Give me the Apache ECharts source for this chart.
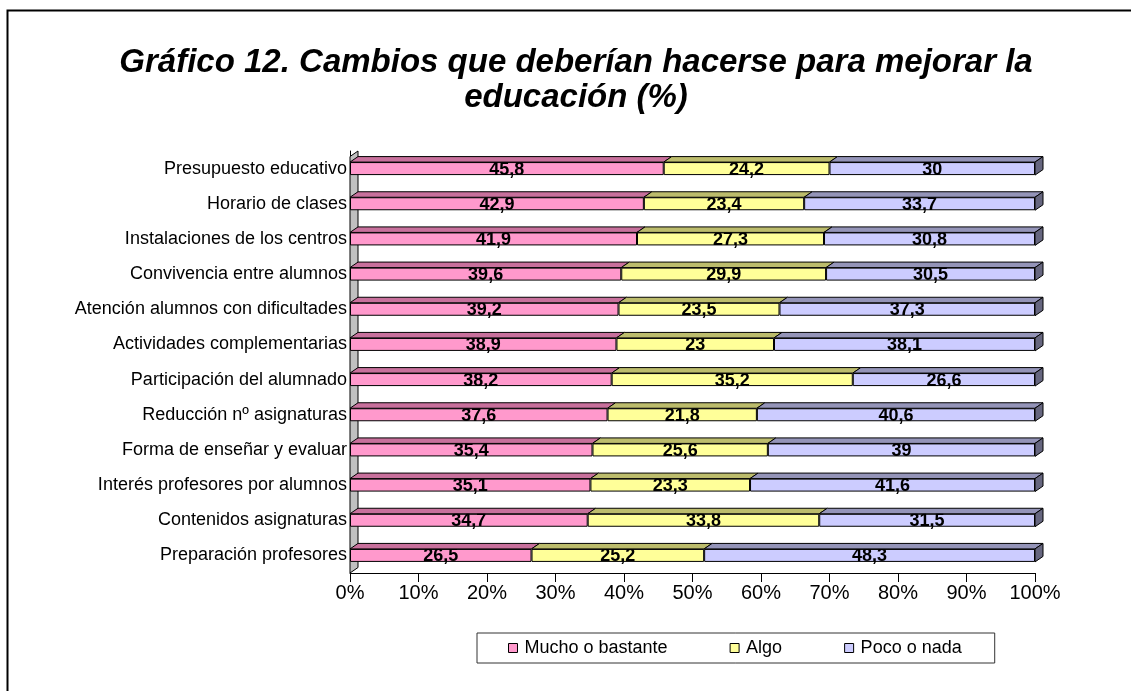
<!DOCTYPE html>
<html>
<head>
<meta charset="utf-8">
<script src="https://cdn.jsdelivr.net/npm/echarts@6/dist/echarts.min.js"></script>
<style>html,body{margin:0;padding:0;background:#fff}#c{width:1131px;height:691px}</style>
</head>
<body>
<div id="c"></div>
<script>
var categories = ['Presupuesto educativo','Horario de clases','Instalaciones de los centros','Convivencia entre alumnos','Atención alumnos con dificultades','Actividades complementarias','Participación del alumnado','Reducción nº asignaturas','Forma de enseñar y evaluar','Interés profesores por alumnos','Contenidos asignaturas','Preparación profesores'];
var mucho = [45.8,42.9,41.9,39.6,39.2,38.9,38.2,37.6,35.4,35.1,34.7,26.5];
var algo  = [24.2,23.4,27.3,29.9,23.5,23.0,35.2,21.8,25.6,23.3,33.8,25.2];
var poco  = [30.0,33.7,30.8,30.5,37.3,38.1,26.6,40.6,39.0,41.6,31.5,48.3];
var seriesNames = ['Mucho o bastante','Algo','Poco o nada'];
var xTicks = [0,10,20,30,40,50,60,70,80,90,100];

var frontColors = ['#ff99cc','#ffff99','#ccccff'];
var topColors = ['#c8709c','#bcbc6c','#9494b8'];
var capColor = '#66667f';
var DX = 8, DY = 5.5, BW = 13;
var FONT = '"Liberation Sans", Arial, sans-serif';

var all = [mucho, algo, poco];
var segs = [];
for (var i = 0; i < categories.length; i++) {
  var s = 0;
  for (var k = 0; k < 3; k++) {
    var v = all[k][i];
    segs.push([i, s, s + v, k]);
    s += v;
  }
}

var chart = echarts.init(document.getElementById('c'), null, {renderer:'canvas'});

function fmt(p){ return String(p.value).replace('.', ','); }

var barSeries = seriesNames.map(function(n, k){
  return {
    name: n, type: 'bar', stack: 'tot', barWidth: BW, z: 3,
    data: all[k],
    itemStyle: {color: frontColors[k], borderColor: '#000', borderWidth: 1},
    label: {show: true, position: 'inside', formatter: fmt, color: '#000',
            fontFamily: FONT, fontWeight: 'bold', fontSize: 18, offset:[0,1]},
    emphasis: {disabled: true}
  };
});

var option = {
  animation: false,
  backgroundColor: '#fff',
  title: {
    text: 'Gráfico 12. Cambios que deberían hacerse para mejorar la\neducación (%)',
    left: 571, top: 40, textAlign: 'center',
    textStyle: {fontFamily: FONT, fontStyle: 'italic', fontWeight: 'bold', fontSize: 33, lineHeight: 35, color: '#000'}
  },
  legend: {
    data: seriesNames,
    left: 477, top: 633,
    padding: [6, 33, 6, 31],
    borderColor: '#333', borderWidth: 1,
    itemWidth: 9, itemHeight: 9, itemGap: 62,
    icon: 'rect',
    itemStyle: {borderColor: '#000', borderWidth: 1},
    textStyle: {fontFamily: FONT, fontSize: 18, color: '#000', padding:[0,0,0,2]}
  },
  grid: {left: 350, right: 96, top: 151, height: 422, containLabel: false},
  xAxis: {
    type: 'value', min: 0, max: 100, interval: 10,
    axisLine: {show: true, lineStyle: {color: '#000', width: 1}},
    axisTick: {show: true, length: 9, lineStyle: {color: '#000'}},
    splitLine: {show: false},
    axisLabel: {formatter: function(v){ return xTicks.indexOf(v) >= 0 ? v + '%' : ''; }, margin: 10,
                fontFamily: FONT, fontSize: 20, color: '#000'}
  },
  yAxis: {
    type: 'category', data: categories, inverse: true,
    axisLine: {show: true, lineStyle: {color: '#000'}},
    axisTick: {show: false},
    axisLabel: {margin: 3, fontFamily: FONT, fontSize: 18, color: '#000'}
  },
  series: [
    {
      type: 'custom', z: 1, silent: true,
      data: [[0]],
      renderItem: function(params, api){
        var first = api.coord([0, 0]);
        var last = api.coord([0, categories.length - 1]);
        var band = api.size([0, 1])[1];
        var x = first[0];
        var top = first[1] - band / 2;
        var bot = last[1] + band / 2;
        return {
          type: 'polygon',
          shape: {points: [[x, top + DY], [x + DX, top], [x + DX, bot - DY], [x, bot]]},
          style: {fill: '#c0c0c0', stroke: '#000', lineWidth: 1}
        };
      }
    }
  ].concat(barSeries).concat([
    {
      type: 'custom', z: 4, silent: true,
      data: segs,
      encode: {x: [1, 2], y: 0},
      renderItem: function(params, api){
        var cat = api.value(0), a = api.value(1), b = api.value(2), k = api.value(3);
        var p0 = api.coord([a, cat]);
        var p1 = api.coord([b, cat]);
        var yT = p0[1] - BW / 2, yB = p0[1] + BW / 2;
        var children = [{
          type: 'polygon',
          shape: {points: [[p0[0], yT], [p1[0], yT], [p1[0] + DX, yT - DY], [p0[0] + DX, yT - DY]]},
          style: {fill: topColors[k], stroke: '#000', lineWidth: 1}
        }];
        if (k === 2) {
          children.push({
            type: 'polygon',
            shape: {points: [[p1[0], yT], [p1[0] + DX, yT - DY], [p1[0] + DX, yB - DY], [p1[0], yB]]},
            style: {fill: capColor, stroke: '#000', lineWidth: 1}
          });
        }
        return {type: 'group', children: children};
      }
    }
  ]),
  graphic: [
    {type: 'polyline', shape: {points: [[7.5, 700], [7.5, 10.5], [1140, 10.5]]},
     style: {stroke: '#000', lineWidth: 2, fill: null}, z: 100}
  ]
};
chart.setOption(option);
</script>
</body>
</html>
